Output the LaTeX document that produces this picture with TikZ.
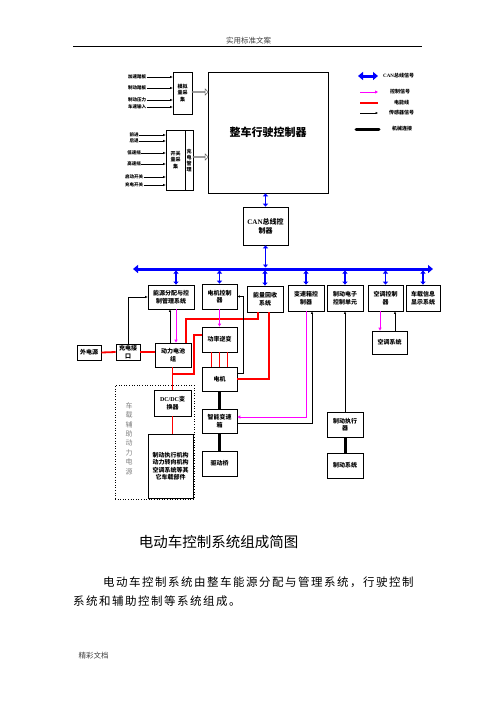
\documentclass[tikz,border=0pt]{standalone}
\usepackage{fontspec}
\setmainfont{Noto Sans CJK SC}
\newfontfamily\latfont{Liberation Serif}
\newfontfamily\bodyfont{Noto Sans CJK SC}[LetterSpace=13]
\usetikzlibrary{arrows.meta, shapes.arrows}

\definecolor{canblue}{RGB}{0,0,255}
\definecolor{ctrlpink}{RGB}{255,0,255}
\definecolor{powred}{RGB}{255,0,0}

\tikzset{
  box/.style={draw, line width=0.7pt, inner sep=0pt, align=center,
    font=\bfseries\fontsize{6}{7.5}\selectfont},
  lab/.style={inner sep=0.5pt, font=\bfseries\fontsize{4.5}{5}\selectfont},
  leglab/.style={inner sep=0pt, anchor=west, font=\bfseries\fontsize{5}{6}\selectfont},
  canbus/.style={draw=canblue, line width=3pt,
    {Triangle[length=5pt,width=8pt]}-{Triangle[length=5pt,width=8pt]}},
  cantap/.style={draw=canblue, line width=1.6pt,
    {Triangle[length=3pt,width=5pt]}-{Triangle[length=3pt,width=5pt]}},
  ctrl/.style={draw=ctrlpink, line width=0.8pt, -{Triangle[length=3pt,width=3pt]}},
  sense/.style={draw=black, line width=0.5pt, -{Triangle[length=2.5pt,width=2pt]}},
  power/.style={draw=powred, line width=1.8pt},
  mech/.style={draw=black, line width=3pt},
  hollow/.style={single arrow, draw=black!60, fill=white, line width=0.5pt,
    minimum width=6pt, single arrow head extend=1.5pt, inner sep=0pt}
}

\begin{document}
\begin{tikzpicture}[x=1pt, y=-1pt]
    \useasboundingbox (0,0) rectangle (496,702);

    % Header and footer
    \node[text=black!75, font=\fontsize{7.5}{8}\selectfont] (header) at (248.5,41) {实用标准文案};
    \draw[line width=0.8pt] (73,46.5) -- (422,46.5);
    \node[anchor=west, text=black!75, font=\fontsize{7.5}{8}\selectfont] (footer) at (75,656) {精彩文档};

    % Vehicle controller and its inputs
    \node[box, minimum width=120pt, minimum height=121pt,
          font=\bfseries\fontsize{11}{13}\selectfont] (vcu) at (268,132.5) {整车行驶控制器};
    \node[box, minimum width=19pt, minimum height=42pt,
          font=\bfseries\fontsize{5}{6.5}\selectfont] (analog) at (182.5,93) {模拟\\量采\\集};
    \node[box, minimum width=19pt, minimum height=60pt,
          font=\bfseries\fontsize{5}{6.5}\selectfont] (switch) at (175.5,160) {开关\\量采\\集};
    \node[box, minimum width=8pt, minimum height=60pt,
          font=\bfseries\fontsize{5}{6}\selectfont] (charge) at (189,160) {充\\电\\管\\理};
    \node[hollow, minimum height=16pt] (a2v) at (200,92) {};
    \node[hollow, minimum height=15pt] (c2v) at (200.5,157) {};

    \foreach \nm/\y/\txt in {in1/77/加速踏板, in2/88/制动踏板, in3/100/制动压力, in4/107/车速输入} {
        \node[lab] (\nm) at (137,\y) {\txt};
        \draw[sense] (\nm.east) -- (\nm.east -| analog.west);
    }
    \foreach \nm/\y/\txt in {sw1/135/前进, sw2/141/后退, sw3/153/低速挡, sw4/164/高速挡,
                             sw5/177/启动开关, sw6/185/充电开关} {
        \node[lab] (\nm) at (134,\y) {\txt};
        \draw[sense] (\nm.east) -- (\nm.east -| switch.west);
    }

    % Legend
    \node[leglab] (lgcan) at (383,76) {{\latfont\bfseries CAN}总线信号};
    \draw[canbus] ([xshift=-25pt]lgcan.west) -- ([xshift=-5pt]lgcan.west);
    \node[leglab] (lgctrl) at (390,92) {控制信号};
    \draw[ctrl] ([xshift=-30pt]lgctrl.west) -- ([xshift=-12pt]lgctrl.west);
    \node[leglab] (lgpow) at (394,103) {电能线};
    \draw[power] ([xshift=-34pt]lgpow.west) -- ([xshift=-16pt]lgpow.west);
    \node[leglab] (lgsen) at (389,113) {传感器信号};
    \draw[sense] ([xshift=-29pt]lgsen.west) -- ([xshift=-11pt]lgsen.west);
    \node[leglab] (lgmech) at (392,129) {机械连接};
    \draw[mech, line cap=round] ([xshift=-36pt]lgmech.west) -- ([xshift=-13pt]lgmech.west);

    % CAN bus
    \node[box, minimum width=45pt, minimum height=38pt,
          font=\bfseries\fontsize{7}{9}\selectfont] (can) at (265.5,226) {{\latfont\bfseries CAN}总线控\\制器};
    \coordinate (busL) at (133,269);
    \coordinate (busR) at (433,269);
    \coordinate (busT) at (265,267.5);
    \coordinate (busB) at (265,270.5);
    \draw[canbus] (busL) -- (busR);
    \draw[cantap] (can.north) -- (can.north |- vcu.south);
    \draw[cantap] (can.south) -- (can.south |- busT);

    % Controllers on the bus
    \node[box, minimum width=46pt, minimum height=24pt] (bms) at (171,297) {能源分配与控\\制管理系统};
    \node[box, minimum width=35pt, minimum height=25pt] (mcu) at (219.5,296.5) {电机控制\\器};
    \node[box, minimum width=36pt, minimum height=26pt] (regen) at (265,299) {能量回收\\系统};
    \node[box, minimum width=36pt, minimum height=26pt] (tcu) at (306,298) {变速箱控\\制器};
    \node[box, minimum width=36pt, minimum height=26pt] (ecu) at (345,298) {制动电子\\控制单元};
    \node[box, minimum width=35pt, minimum height=26pt] (acc) at (385.5,298) {空调控制\\器};
    \node[box, minimum width=34pt, minimum height=26pt] (info) at (423,298) {车载信息\\显示系统};
    \draw[cantap] ([xshift=5pt]bms.north) -- ([xshift=5pt]bms.north |- busB);
    \foreach \b in {mcu, regen, tcu, ecu, acc, info}
        \draw[cantap] (\b.north) -- (\b.north |- busB);

    % Drive train
    \node[box, minimum width=24pt, minimum height=15pt] (ext) at (89,352.5) {外电源};
    \node[box, minimum width=24pt, minimum height=16pt] (port) at (128,352) {充电接\\口};
    \node[box, minimum width=36pt, minimum height=24pt] (batt) at (173,355) {动力电池\\组};
    \node[box, minimum width=35pt, minimum height=25pt] (inv) at (219.5,339.5) {功率逆变};
    \node[box, minimum width=35pt, minimum height=24pt] (motor) at (219.5,379) {电机};
    \node[box, minimum width=35pt, minimum height=24pt] (gear) at (219.5,421) {智能变速\\箱};
    \node[box, minimum width=35pt, minimum height=25pt] (axle) at (219.5,463.5) {驱动桥};
    \node[box, minimum width=35pt, minimum height=23pt] (ac) at (389.5,342.5) {空调系统};
    \node[box, minimum width=36pt, minimum height=25pt] (brk) at (345,424.5) {制动执行\\器};
    \node[box, minimum width=36pt, minimum height=25pt] (brksys) at (345,465.5) {制动系统};

    % Auxiliary power
    \node[draw, dotted, line width=0.6pt, minimum width=79pt, minimum height=114pt] (aux) at (154.5,442) {};
    \node[text=black!50, align=center, inner sep=0pt,
          font=\fontsize{7}{9.4}\selectfont] (auxlab) at (129,438.5) {车\\载\\辅\\助\\动\\力\\电\\源};
    \node[box, minimum width=37pt, minimum height=26pt] (dcdc) at (172.5,403) {{\latfont\bfseries DC/DC}变\\换器};
    \node[box, minimum width=45pt, minimum height=64pt] (loads) at (170.5,466) {制动执行机构\\动力转向机构\\空调系统等其\\它车载部件};

    % Power lines
    \draw[power] (ext.east) -- (port.west);
    \draw[power] (port.east) -- (port.east -| batt.west);
    \draw[power] ([xshift=13pt]batt.north) |- ([xshift=-7pt,yshift=-7pt]regen.south) -- ([xshift=-7pt]regen.south);
    \draw[power] (batt.south -| dcdc.north) -- (dcdc.north);
    \draw[power] ([yshift=-7pt]batt.south -| dcdc.north) -- ++(21.5,0) |- ([yshift=4.5pt]inv.west);
    \draw[power] (dcdc.south) -- (dcdc.south |- loads.north);
    \foreach \dx in {-8,0,8}
        \draw[power] ([xshift=\dx pt]inv.south) -- ([xshift=\dx pt]motor.north);
    \draw[power] (motor.east) -| ([xshift=4pt]regen.south);

    % Control and sensor signals
    \draw[sense] (port.north) |- (bms.west);
    \draw[ctrl] ([xshift=5pt]bms.south) -- ([xshift=5pt]bms.south |- batt.north);
    \draw[sense] ([xshift=-1pt]bms.south |- batt.north) -- ([xshift=-1pt]bms.south);
    \draw[ctrl] (mcu.south) -- (inv.north);
    \draw[sense] ([yshift=6pt]motor.east) -- ++(6,0) |- (mcu.east);
    \draw[ctrl] (tcu.south) |- ([yshift=4pt]gear.east);
    \draw[sense] ([yshift=-2pt]gear.east) -| ([xshift=6pt]tcu.south);
    \draw[sense] (brk.north) -- (ecu.south);
    \draw[ctrl] ([xshift=-5.5pt]acc.south) -- ([xshift=-5.5pt]acc.south |- ac.north);
    \draw[sense] ([xshift=5.5pt]ac.north) -- ([xshift=5.5pt]ac.north |- acc.south);

    % Mechanical links
    \draw[mech] (motor.south) -- (gear.north);
    \draw[mech] (gear.south) -- (axle.north);
    \draw[mech] (brk.south) -- (brksys.north);

    % Caption and text
    \node[font=\fontsize{14.5}{16}\selectfont] (title) at (218.5,542) {电动车控制系统组成简图};
    \node[anchor=west, inner sep=0pt, font=\bodyfont\fontsize{11.5}{13}\selectfont] (body1) at (103,582)
        {电动车控制系统由整车能源分配与管理系统，行驶控制};
    \node[anchor=west, inner sep=0pt, font=\bodyfont\fontsize{11.5}{13}\selectfont] (body2) at (73,601)
        {系统和辅助控制等系统组成。};

\end{tikzpicture}
\end{document}
